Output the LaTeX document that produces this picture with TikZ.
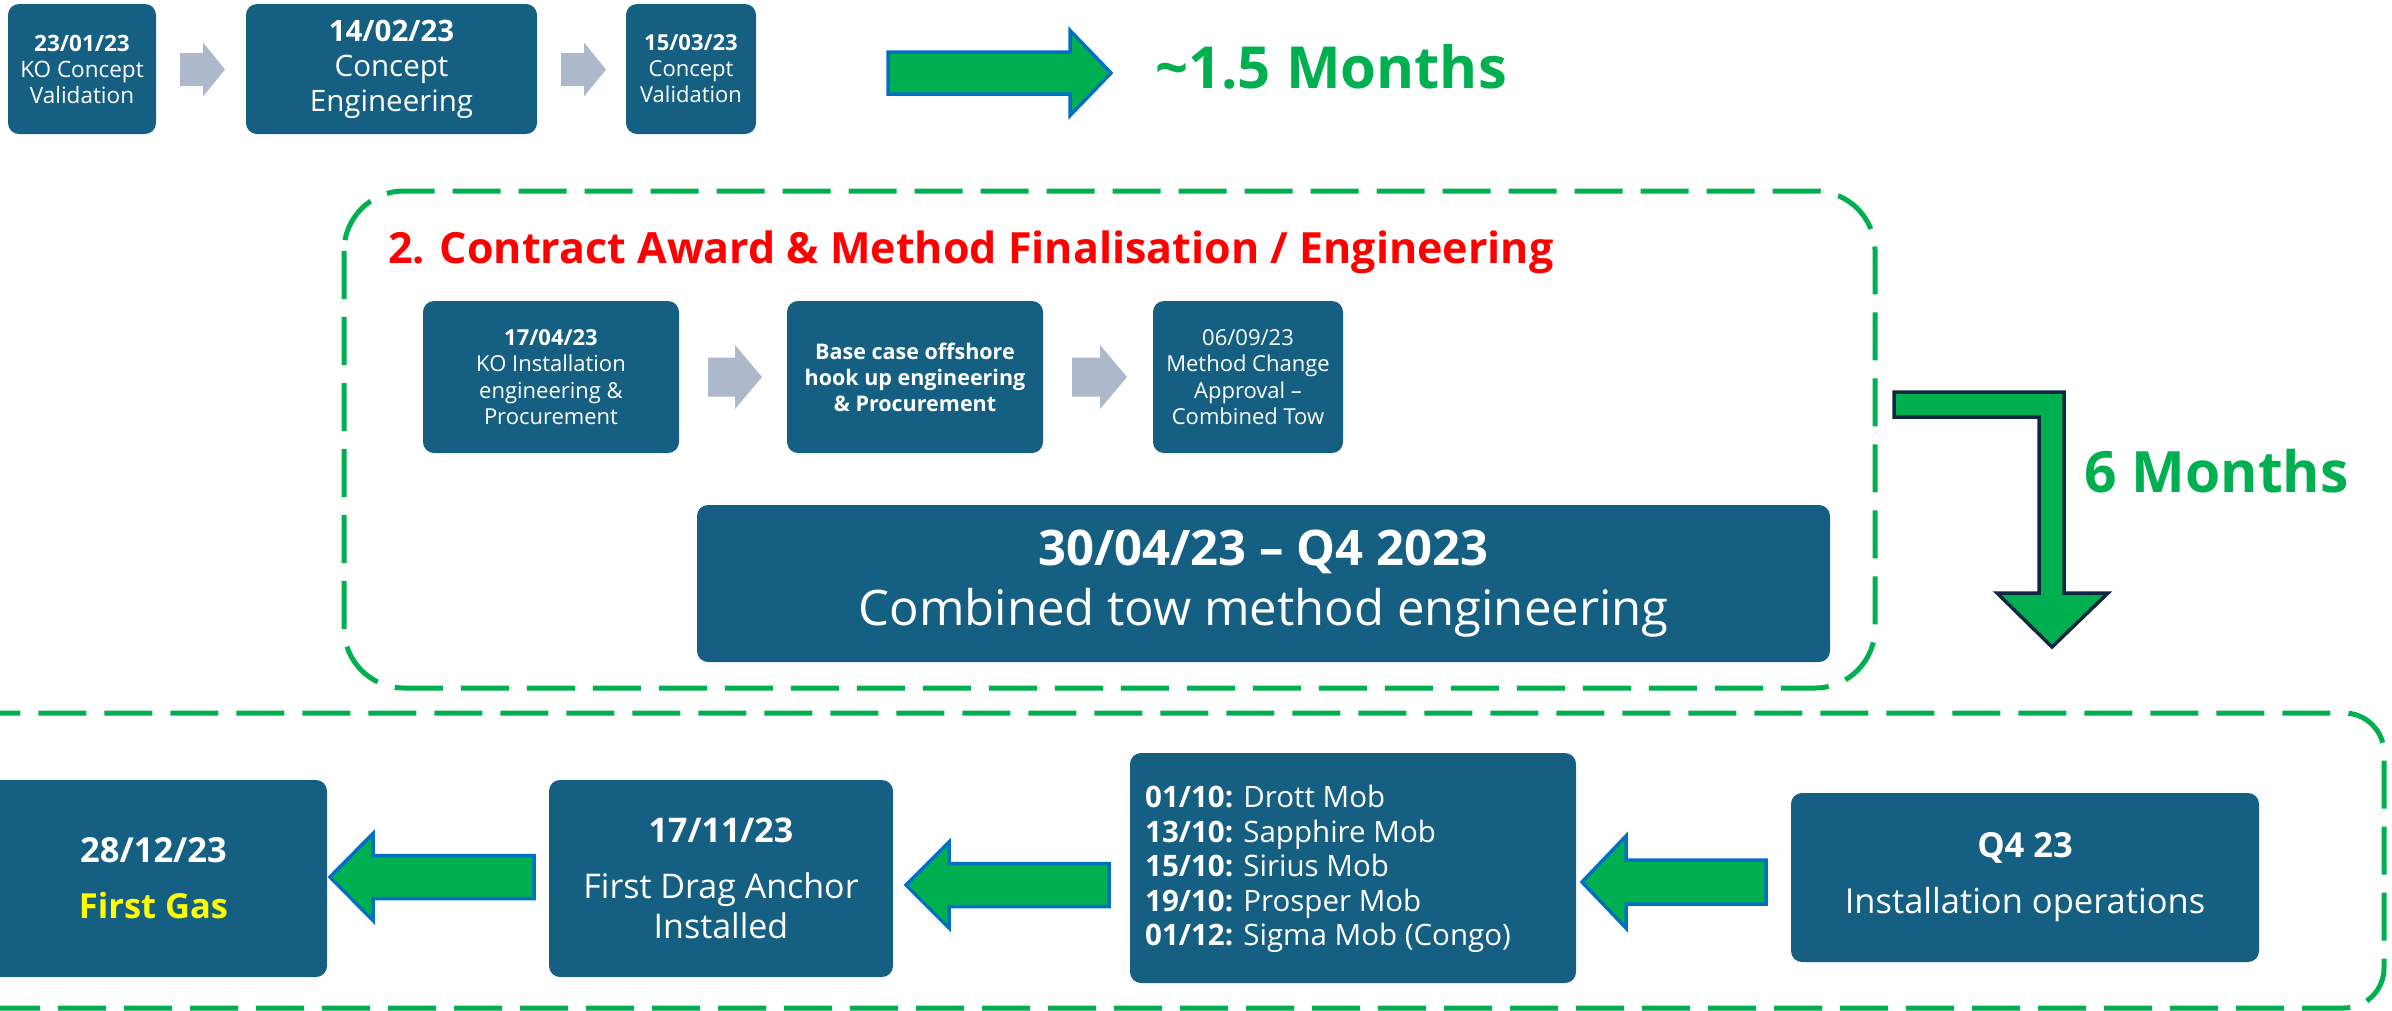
\documentclass[tikz,border=0pt]{standalone}
\usepackage{fontspec}
\setmainfont{Open Sans}
\definecolor{boxblue}{HTML}{156082}
\definecolor{arrowgray}{HTML}{ADB9CA}
\definecolor{phasegreen}{HTML}{00B050}
\definecolor{edgeblue}{HTML}{0070C0}
\definecolor{edgenavy}{HTML}{0E2841}
\definecolor{gasyellow}{HTML}{FFFF00}
\definecolor{titlered}{HTML}{FF0000}
% block arrow: style, tail x, head-base x, tip x, mid y, half body, half head
\newcommand\blockarrow[7]{%
  \path[#1] (#2,{#5-#6}) -- (#3,{#5-#6}) -- (#3,{#5-#7}) -- (#4,#5)
    -- (#3,{#5+#7}) -- (#3,{#5+#6}) -- (#2,{#5+#6}) -- cycle;}
\newcommand\fs[2]{\fontsize{#1}{#2}\selectfont}
\begin{document}
\begin{tikzpicture}[x=1pt,y=-1pt,
  stage/.style={fill=boxblue, rounded corners=11pt, text=white, align=center, inner sep=0pt},
  grayarrow/.style={fill=arrowgray},
  greenarrow/.style={fill=phasegreen, draw=edgeblue, line width=3.5pt, line join=miter},
  phase/.style={draw=phasegreen, line width=5pt, dash pattern=on 48pt off 18pt},
  label/.style={inner sep=0pt, anchor=base west}]
\useasboundingbox (0,0) rectangle (2392,1010);

% ---- concept phase ----
\node[stage, minimum width=148pt, minimum height=130pt, font=\fs{22.5}{26}] (ko) at (82,69)
  {\textbf{23/01/23}\\KO Concept\\Validation};
\node[stage, minimum width=291pt, minimum height=130pt, font=\fs{29.5}{35}] (ce) at (391.5,69)
  {\textbf{14/02/23}\\Concept\\Engineering};
\node[stage, minimum width=130pt, minimum height=130pt, font=\fs{22}{26}] (cv) at (691,69)
  {\textbf{15/03/23}\\Concept\\Validation};
\blockarrow{grayarrow}{180}{203}{225}{69.5}{16.5}{27}
\blockarrow{grayarrow}{561}{584}{606}{69.5}{16.5}{27}
\blockarrow{greenarrow}{888}{1070}{1111}{73}{21}{42.5}
\node[label, text=phasegreen, font=\fs{58}{68}\bfseries] (dur1) at (1155,88) {\textasciitilde1.5 Months};

% ---- contract award & engineering phase ----
\draw[phase, rounded corners=60pt] (344,191) rectangle (1875,688);
\node[label, text=titlered, font=\fs{43}{50}\bfseries] (title) at (388,263)
  {2. Contract Award \& Method Finalisation / Engineering};
\node[stage, minimum width=256pt, minimum height=152pt, font=\fs{22}{26.5}] (kie) at (551,377)
  {\textbf{17/04/23}\\KO Installation\\engineering \&\\Procurement};
\node[stage, minimum width=256pt, minimum height=152pt, font=\fs{21.5}{26}\bfseries] (base) at (915,377)
  {Base case offshore\\hook up engineering\\\& Procurement};
\node[stage, minimum width=190pt, minimum height=152pt, font=\fs{22}{26.5}] (mca) at (1248,377)
  {06/09/23\\Method Change\\Approval –\\Combined Tow};
\blockarrow{grayarrow}{708}{735}{762}{377}{19.5}{32}
\blockarrow{grayarrow}{1072}{1100}{1127}{377}{19.5}{32}
\node[stage, minimum width=1133pt, minimum height=157pt, font=\fs{49}{60}] (ctm) at (1263.5,583.5)
  {\textbf{30/04/23 – Q4 2023}\\Combined tow method engineering};

% ---- bent arrow into installation phase ----
\draw[fill=phasegreen, draw=edgenavy, line width=3.5pt, line join=miter]
  (1894,392) -- (2064,392) -- (2064,593) -- (2108,593) -- (2052,647)
  -- (1997,593) -- (2039,593) -- (2039,417) -- (1894,417) -- cycle;
\node[label, text=phasegreen, font=\fs{57}{70}\bfseries] (dur2) at (2084,492) {6 Months};

% ---- installation phase ----
\draw[phase, rounded corners=40pt] (-100,713) rectangle (2384,1008);
\node[stage, minimum width=347pt, minimum height=197pt, font=\fs{34.5}{56}\bfseries] (gas) at (153.5,878.5)
  {28/12/23\\\textcolor{gasyellow}{First Gas}};
\node[stage, minimum width=344pt, minimum height=197pt, font=\fs{34}{40}] (anchor) at (721,878.5)
  {\textbf{17/11/23}\\[16pt]First Drag Anchor\\Installed};
\node[stage, minimum width=446pt, minimum height=230pt] (mob) at (1353,868) {};
\node[inner sep=0pt, anchor=west, align=left, text=white, font=\fs{29.5}{34.5}] (moblist) at (1145,869)
  {\textbf{01/10:} Drott Mob\\
   \textbf{13/10:} Sapphire Mob\\
   \textbf{15/10:} Sirius Mob\\
   \textbf{19/10:} Prosper Mob\\
   \textbf{01/12:} Sigma Mob (Congo)};
\node[stage, minimum width=468pt, minimum height=169pt, font=\fs{34.5}{56}] (ops) at (2025,877.5)
  {\textbf{Q4 23}\\Installation operations};
\blockarrow{greenarrow}{534}{373}{330}{877}{21.5}{43.5}
\blockarrow{greenarrow}{1109}{949}{906}{885}{21.5}{43}
\blockarrow{greenarrow}{1766}{1626}{1582}{882}{22}{46}
\end{tikzpicture}
\end{document}
